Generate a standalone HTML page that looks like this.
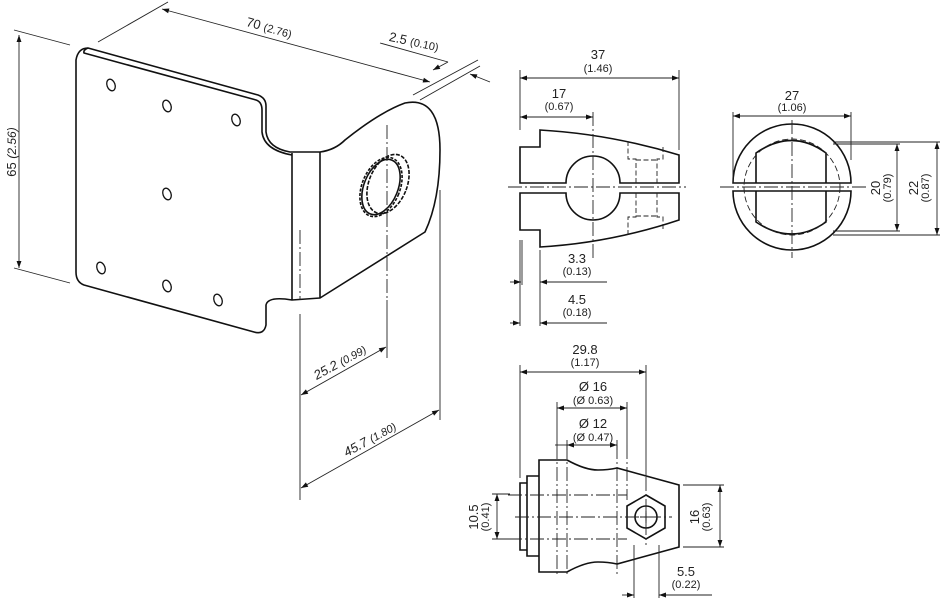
<!DOCTYPE html>
<html><head><meta charset="utf-8"><style>
html,body{margin:0;padding:0;background:#fff;}
svg{display:block;}
text{font-family:"Liberation Sans",sans-serif;fill:#222;}
.t{font-size:13px;}
.s{font-size:11px;}
</style></head><body>
<svg width="940" height="598" viewBox="0 0 940 598" xmlns="http://www.w3.org/2000/svg">
<defs>
<marker id="a" viewBox="0 0 10 10" refX="10" refY="5" markerWidth="10" markerHeight="7" orient="auto-start-reverse" markerUnits="userSpaceOnUse"><path d="M0,1.5L10,5L0,8.5z" fill="#111"/></marker>
</defs>
<g fill="none" stroke="#111" stroke-width="1.6" stroke-linejoin="round">
<!-- plate -->
<path d="M88,48 L258,95 Q266,98 266,106 L266,132 Q268,148 290,152 L320,152 Q335,150 345,140 Q380,112 405,103 Q440,96 440,150 Q440,200 425,232 L320,298 L292,300 Q268,296 266,305 L266,325 Q264,335 254,332 L84,285 Q76,282 76,272 L76,60 Q78,48 88,48 Z"/>
<path d="M88,48 Q83,50 84,53 L256,100 Q262,102 262,110 L262,132 Q264,150 292,155"/>
<line x1="292" y1="153" x2="292" y2="300"/>
<line x1="320" y1="152" x2="320" y2="298"/>
<!-- holes -->
<g stroke-width="1.3">
<ellipse cx="111" cy="85" rx="4" ry="6" transform="rotate(-20 111 85)"/>
<ellipse cx="167" cy="106" rx="4" ry="6" transform="rotate(-20 167 106)"/>
<ellipse cx="236" cy="120" rx="4" ry="6" transform="rotate(-20 236 120)"/>
<ellipse cx="167" cy="194" rx="4" ry="6" transform="rotate(-20 167 194)"/>
<ellipse cx="101" cy="268" rx="4" ry="6" transform="rotate(-20 101 268)"/>
<ellipse cx="167" cy="286" rx="4" ry="6" transform="rotate(-20 167 286)"/>
<ellipse cx="218" cy="300" rx="4" ry="6" transform="rotate(-20 218 300)"/>
</g>
<ellipse cx="381" cy="187" rx="19" ry="31" transform="rotate(22 381 187)" stroke-dasharray="3 1.5"/>
<ellipse cx="388" cy="184" rx="19" ry="31" transform="rotate(22 388 184)" stroke-dasharray="4 1.5"/>
<ellipse cx="381" cy="187" rx="17" ry="29" transform="rotate(22 381 187)"/>
</g>
<g fill="none" stroke="#222" stroke-width="0.9">
<line x1="387" y1="125" x2="387" y2="300" stroke-dasharray="14 3 2 3"/>
<line x1="300" y1="230" x2="300" y2="300" stroke-dasharray="14 3 2 3"/>
<!-- 65 -->
<line x1="14" y1="30" x2="70" y2="45"/><line x1="14" y1="268" x2="70" y2="283"/>
<line x1="19" y1="35" x2="19" y2="268" marker-start="url(#a)" marker-end="url(#a)"/>
<!-- 70 -->
<line x1="98" y1="42" x2="168" y2="2"/>
<line x1="413" y1="95" x2="478" y2="60"/><line x1="420" y1="100" x2="480" y2="66"/>
<line x1="162" y1="9" x2="430" y2="82" marker-start="url(#a)" marker-end="url(#a)"/>
<line x1="380" y1="43" x2="448" y2="62"/><line x1="448" y1="62" x2="433" y2="70" marker-end="url(#a)"/>
<line x1="490" y1="82" x2="470" y2="74" marker-end="url(#a)"/>
<!-- 25.2 / 45.7 -->
<line x1="300" y1="314" x2="300" y2="500"/>
<line x1="387" y1="300" x2="387" y2="358"/>
<line x1="440" y1="190" x2="440" y2="420"/>
<line x1="301" y1="395" x2="386" y2="347" marker-start="url(#a)" marker-end="url(#a)"/>
<line x1="301" y1="488" x2="439" y2="410" marker-start="url(#a)" marker-end="url(#a)"/>
</g>
<text class="t" transform="translate(16,152) rotate(-90)" text-anchor="middle">65 <tspan font-style="italic" font-size="12">(2.56)</tspan></text>
<text class="t" transform="translate(268,32) rotate(15.5)" text-anchor="middle">70 <tspan font-size="11">(2.76)</tspan></text>
<text class="t" transform="translate(413,46) rotate(12)" text-anchor="middle">2.5 <tspan font-size="11">(0.10)</tspan></text>
<text class="t" transform="translate(342,366) rotate(-29)" text-anchor="middle" font-style="italic">25.2 <tspan font-size="11">(0.99)</tspan></text>
<text class="t" transform="translate(372,443) rotate(-29)" text-anchor="middle" font-style="italic">45.7 <tspan font-size="11">(1.80)</tspan></text>

<!-- side view -->
<g fill="none" stroke="#111" stroke-width="1.6">
<path d="M520,183 L520,147 L540,147 L540,130 Q610,134 679,155 L679,183 L620,183 A27,27 0 0 0 566,183 Z"/>
<path d="M520,193 L520,230 L540,230 L540,247 Q610,243 679,220 L679,193 L620,193 A27,27 0 0 1 566,193 Z"/>
</g>
<g fill="none" stroke="#222" stroke-width="0.9">
<g stroke-dasharray="5 2.5">
<path d="M628,141 L628,159 L636,159 L636,183 M663,147 L663,159 L657,159 L657,183 M636,160 L657,160"/>
<path d="M628,235 L628,217 L636,217 L636,193 M663,229 L663,217 L657,217 L657,193 M636,216 L657,216"/>
</g>
<line x1="508" y1="187" x2="686" y2="187" stroke-dasharray="14 3 2 3"/>
<line x1="593" y1="112" x2="593" y2="258" stroke-dasharray="14 3 2 3"/>
<line x1="520" y1="70" x2="520" y2="130"/><line x1="679" y1="70" x2="679" y2="150"/>
<line x1="520" y1="78" x2="679" y2="78" marker-start="url(#a)" marker-end="url(#a)"/>
<line x1="520" y1="117" x2="593" y2="117" marker-start="url(#a)" marker-end="url(#a)"/>
<line x1="520" y1="240" x2="520" y2="326"/><line x1="522" y1="240" x2="522" y2="285"/><line x1="540" y1="250" x2="540" y2="326"/>
<line x1="510" y1="282" x2="521" y2="282" marker-end="url(#a)"/><line x1="607" y1="282" x2="540" y2="282" marker-end="url(#a)"/>
<line x1="510" y1="323" x2="520" y2="323" marker-end="url(#a)"/><line x1="607" y1="323" x2="540" y2="323" marker-end="url(#a)"/>
</g>
<g text-anchor="middle">
<text class="t" x="598" y="59">37</text><text class="s" x="598" y="72">(1.46)</text>
<text class="t" x="559" y="98">17</text><text class="s" x="559" y="110">(0.67)</text>
<text class="t" x="577" y="263">3.3</text><text class="s" x="577" y="275">(0.13)</text>
<text class="t" x="577" y="304">4.5</text><text class="s" x="577" y="316">(0.18)</text>
</g>

<!-- front view -->
<g fill="none" stroke="#111" stroke-width="1.6">
<path d="M733,183 A59,59 0 0 1 851,183 Z"/>
<path d="M733,191 A59,59 0 0 0 851,191 Z"/>
<path d="M756,183 L756,153 Q792,128 826,153 L826,183"/>
<path d="M756,191 L756,222 Q792,246 826,222 L826,191"/>
</g>
<g fill="none" stroke="#222" stroke-width="0.9">
<circle cx="792" cy="187" r="48" stroke-dasharray="6 3"/>
<line x1="720" y1="187" x2="866" y2="187" stroke-dasharray="14 3 2 3"/>
<line x1="792" y1="120" x2="792" y2="258" stroke-dasharray="14 3 2 3"/>
<line x1="733" y1="112" x2="733" y2="183"/><line x1="851" y1="112" x2="851" y2="160"/>
<line x1="733" y1="116" x2="851" y2="116" marker-start="url(#a)" marker-end="url(#a)"/>
<line x1="833" y1="142" x2="942" y2="142"/><line x1="833" y1="144" x2="900" y2="144"/>
<line x1="833" y1="231" x2="900" y2="231"/><line x1="833" y1="235" x2="942" y2="235"/>
<line x1="897" y1="144" x2="897" y2="231" marker-start="url(#a)" marker-end="url(#a)"/>
<line x1="937" y1="142" x2="937" y2="235" marker-start="url(#a)" marker-end="url(#a)"/>
</g>
<g text-anchor="middle">
<text class="t" x="792" y="100">27</text><text class="s" x="792" y="111">(1.06)</text>
<text class="t" transform="translate(880,188) rotate(-90)">20</text>
<text class="s" transform="translate(891,188) rotate(-90)">(0.79)</text>
<text class="t" transform="translate(918,188) rotate(-90)">22</text>
<text class="s" transform="translate(929,188) rotate(-90)">(0.87)</text>
</g>

<!-- bottom view -->
<g fill="none" stroke="#111" stroke-width="1.6">
<path d="M539,460 L567,460 Q585,470 598,470 Q608,470 617,468 L679,485 L679,547 L617,564 Q608,562 598,562 Q585,562 567,572 L539,572 Z"/>
<path d="M539,476 L527,476 L527,556 L539,556"/>
<path d="M527,483 L520,483 L520,550 L527,550"/>
<path d="M646,495 L665,506 L665,528 L646,539 L627,528 L627,506 Z"/>
<circle cx="646" cy="517" r="11"/>
<path d="M640,517 L652,517 M646,511 L646,523" stroke-width="1"/>
</g>
<g fill="none" stroke="#222" stroke-width="0.9">
<g stroke-dasharray="14 3 2 3">
<line x1="557" y1="445" x2="557" y2="575"/><line x1="567" y1="445" x2="567" y2="575"/>
<line x1="617" y1="445" x2="617" y2="575"/><line x1="627" y1="445" x2="627" y2="500"/>
<line x1="508" y1="495" x2="627" y2="495"/><line x1="508" y1="539" x2="627" y2="539"/>
<line x1="515" y1="517" x2="672" y2="517"/>
<line x1="646" y1="477" x2="646" y2="545"/>
</g>
<line x1="520" y1="365" x2="520" y2="478"/><line x1="646" y1="365" x2="646" y2="476"/>
<line x1="520" y1="372" x2="646" y2="372" marker-start="url(#a)" marker-end="url(#a)"/>
<line x1="557" y1="402" x2="557" y2="445"/><line x1="627" y1="402" x2="627" y2="445"/>
<line x1="557" y1="408" x2="627" y2="408" marker-start="url(#a)" marker-end="url(#a)"/>
<line x1="567" y1="440" x2="567" y2="450"/><line x1="617" y1="440" x2="617" y2="450"/>
<line x1="555" y1="445" x2="567" y2="445" /><line x1="567" y1="445" x2="617" y2="445" marker-start="url(#a)" marker-end="url(#a)"/>
<line x1="683" y1="485" x2="724" y2="485"/><line x1="683" y1="547" x2="724" y2="547"/>
<line x1="720" y1="485" x2="720" y2="547" marker-start="url(#a)" marker-end="url(#a)"/>
<line x1="492" y1="494" x2="510" y2="494"/><line x1="492" y1="539" x2="510" y2="539"/>
<line x1="497" y1="494" x2="497" y2="539" marker-start="url(#a)" marker-end="url(#a)"/>
<line x1="634" y1="545" x2="634" y2="598"/><line x1="659" y1="545" x2="659" y2="598"/>
<line x1="622" y1="595" x2="634" y2="595" marker-end="url(#a)"/><line x1="712" y1="595" x2="659" y2="595" marker-end="url(#a)"/>
</g>
<g text-anchor="middle">
<text class="t" x="585" y="354">29.8</text><text class="s" x="585" y="366">(1.17)</text>
<text class="t" x="593" y="391">Ø 16</text><text class="s" x="593" y="404">(Ø 0.63)</text>
<text class="t" x="593" y="428">Ø 12</text><text class="s" x="593" y="441">(Ø 0.47)</text>
<text class="t" transform="translate(478,517) rotate(-90)">10.5</text>
<text class="s" transform="translate(489,517) rotate(-90)">(0.41)</text>
<text class="t" transform="translate(699,517) rotate(-90)">16</text>
<text class="s" transform="translate(710,517) rotate(-90)">(0.63)</text>
<text class="t" x="686" y="576">5.5</text><text class="s" x="686" y="588">(0.22)</text>
</g>
</svg>
</body></html>
